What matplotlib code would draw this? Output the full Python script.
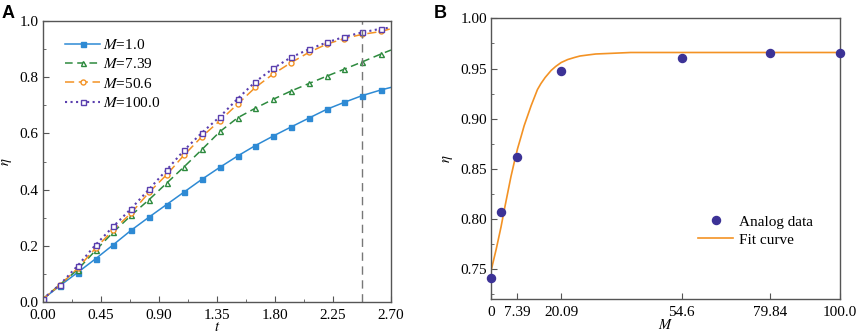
import matplotlib
matplotlib.use('Agg')
import matplotlib.pyplot as plt
from matplotlib.ticker import MultipleLocator, FormatStrFormatter

plt.rcParams['font.family'] = ['Liberation Serif', 'DejaVu Serif']
plt.rcParams['mathtext.fontset'] = 'stix'
plt.rcParams['font.size'] = 10.5

# panel A: efficiency vs time for several M
t = [0.00, 0.134, 0.271, 0.411, 0.548, 0.685, 0.824, 0.961, 1.098, 1.235,
     1.375, 1.512, 1.649, 1.788, 1.925, 2.065, 2.202, 2.339, 2.478, 2.623, 2.70]
eta_m1 = [0.010, 0.058, 0.105, 0.154, 0.204, 0.255, 0.302, 0.347, 0.392, 0.437,
          0.480, 0.520, 0.557, 0.591, 0.623, 0.655, 0.686, 0.711, 0.735, 0.755, 0.764]
eta_m7 = [0.010, 0.062, 0.115, 0.184, 0.249, 0.308, 0.364, 0.423, 0.482, 0.543,
          0.607, 0.656, 0.690, 0.722, 0.751, 0.778, 0.804, 0.829, 0.855, 0.883, 0.897]
eta_m50 = [0.010, 0.060, 0.120, 0.192, 0.257, 0.316, 0.390, 0.453, 0.524, 0.589,
           0.646, 0.705, 0.764, 0.812, 0.852, 0.889, 0.918, 0.938, 0.953, 0.963, 0.973]
eta_m100 = [0.010, 0.062, 0.129, 0.204, 0.269, 0.332, 0.401, 0.470, 0.541, 0.603,
            0.660, 0.724, 0.784, 0.832, 0.871, 0.900, 0.924, 0.944, 0.960, 0.973, 0.977]
t_mark = 2.478

# panel B: final efficiency vs M
m_data = [0.0, 2.72, 7.39, 20.09, 54.6, 79.84, 100.0]
eta_data = [0.7407, 0.8066, 0.8618, 0.948, 0.9604, 0.9657, 0.9657]
m_fit = [0.0, 1.5, 2.87, 3.8, 4.78, 5.7, 6.69, 7.6, 8.6, 9.5, 10.5, 11.5, 12.4,
         13.3, 14.3, 15.5, 17.2, 18.5, 20.1, 22.0, 23.9, 25.5, 27.7, 30.0,
         33.4, 40.0, 55.0, 70.0, 85.0, 100.0]
eta_fit = [0.748, 0.770, 0.792, 0.809, 0.826, 0.842, 0.857, 0.870, 0.882, 0.893,
           0.903, 0.913, 0.921, 0.929, 0.935, 0.941, 0.948, 0.952, 0.956, 0.959,
           0.961, 0.9625, 0.9635, 0.9645, 0.965, 0.966, 0.966, 0.966, 0.966, 0.966]
m_ticks = [0, 7.39, 20.09, 54.6, 79.84, 100.0]
m_labels = ['0', '7.39', '20.09', '54.6', '79.84', '100.0']

fig = plt.figure(figsize=(8.58, 3.35), dpi=100)
ax1 = fig.add_axes([0.0497, 0.0985, 0.406, 0.8385])
ax2 = fig.add_axes([0.5723, 0.1075, 0.4067, 0.8375])

ms = 3.6
mark = list(range(20))
ax1.plot(t, eta_m1, '-', color='#2e8ad4', lw=1.1, marker='s', ms=ms,
         markevery=mark, label='$M$=1.0')
ax1.plot(t, eta_m7, '--', color='#2d8a3e', lw=1.1, marker='^', ms=ms,
         mfc='white', markevery=mark, dashes=(5, 3), label='$M$=7.39')
ax1.plot(t, eta_m50, '--', color='#f39224', lw=1.1, marker='o', ms=ms,
         mfc='white', markevery=mark, dashes=(6, 3), label='$M$=50.6')
ax1.plot(t, eta_m100, ':', color='#5a3fae', lw=1.5, marker='s', ms=ms,
         mfc='white', markevery=mark, label='$M$=100.0')
ax1.axvline(t_mark, color='#777777', ls='--', lw=1.0, dashes=(6, 4))

ax1.set_xlim(0, 2.7)
ax1.set_ylim(0, 1.0)
ax1.xaxis.set_major_locator(MultipleLocator(0.45))
ax1.xaxis.set_minor_locator(MultipleLocator(0.225))
ax1.yaxis.set_major_locator(MultipleLocator(0.2))
ax1.yaxis.set_minor_locator(MultipleLocator(0.1))
ax1.xaxis.set_major_formatter(FormatStrFormatter('%.2f'))
ax1.yaxis.set_major_formatter(FormatStrFormatter('%.1f'))
ax1.set_xlabel('$t$', labelpad=-1)
ax1.set_ylabel('$\\eta$', labelpad=4)
ax1.legend(loc='upper left', bbox_to_anchor=(0.064, 0.94), frameon=False,
           borderaxespad=0, borderpad=0, handlelength=2.3, handletextpad=0.2,
           labelspacing=0.35, fontsize=11)

ax2.plot(m_fit, eta_fit, '-', color='#f39224', lw=1.2, label='Fit curve')
ax2.plot(m_data, eta_data, 'o', color='#3c3296', ms=5.8, clip_on=False,
         label='Analog data', zorder=3)
ax2.set_xlim(0, 100)
ax2.set_ylim(0.72, 1.0)
ax2.set_xticks(m_ticks)
ax2.set_xticklabels(m_labels)
ax2.yaxis.set_major_locator(MultipleLocator(0.05))
ax2.yaxis.set_minor_locator(MultipleLocator(0.025))
ax2.yaxis.set_major_formatter(FormatStrFormatter('%.2f'))
ax2.set_xlabel('$M$', labelpad=-1)
ax2.set_ylabel('$\\eta$', labelpad=4)
h, l = ax2.get_legend_handles_labels()
ax2.legend(h[::-1], l[::-1], loc='upper left', bbox_to_anchor=(0.593, 0.30),
           frameon=False, borderaxespad=0, borderpad=0, handlelength=2.3,
           handletextpad=0.4, labelspacing=0.3, fontsize=11)

for ax in (ax1, ax2):
    for s in ax.spines.values():
        s.set_color('#555555')
        s.set_linewidth(1.0)
    ax.tick_params(which='both', direction='in', color='#555555',
                   labelsize=11)
    ax.tick_params(axis='x', pad=5)
    ax.tick_params(axis='y', pad=3)
    ax.tick_params(which='major', length=4)
    ax.tick_params(which='minor', length=2.5)

fig.text(0.002, 0.985, 'A', family=['Liberation Sans', 'DejaVu Sans'],
         weight='bold', fontsize=13, va='top')
fig.text(0.505, 0.985, 'B', family=['Liberation Sans', 'DejaVu Sans'],
         weight='bold', fontsize=13, va='top')

fig.savefig('out.png', dpi=100)
